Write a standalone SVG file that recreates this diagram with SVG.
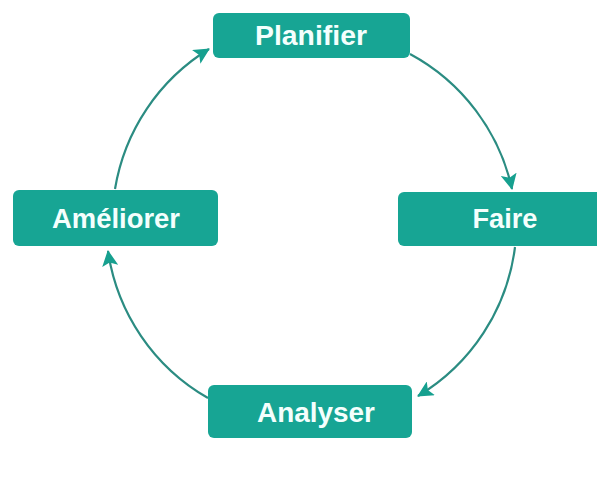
<svg xmlns="http://www.w3.org/2000/svg" width="597" height="477" viewBox="0 0 597 477">
<style>
.box{fill:#17a594;}
.lbl{fill:#f4fffd;font-family:"Liberation Sans",Arial,sans-serif;font-weight:bold;font-size:27px;text-anchor:middle;}
.arc{fill:none;stroke:#2b8c82;stroke-width:2.2;marker-end:url(#ah);}
</style>
<defs>
<marker id="ah" viewBox="0 0 16 16" refX="15" refY="8" markerWidth="16" markerHeight="16" markerUnits="userSpaceOnUse" orient="auto">
<path d="M0,0 L16,8 L0,16 L3.5,8 Z" fill="#16a08f"/>
</marker>
</defs>
<rect width="597" height="477" fill="#ffffff"/>
<g id="connectors">
<path class="arc" d="M 410 54 A 203 203 0 0 1 512 189"/>
<path class="arc" d="M 515 247 A 203 203 0 0 1 418 396"/>
<path class="arc" d="M 208 398 A 203 203 0 0 1 108 251"/>
<path class="arc" d="M 115 189 A 203 203 0 0 1 209 49"/>
</g>
<g id="planifier">
<rect class="box" x="213" y="13" width="197" height="45" rx="6"/>
<text class="lbl" x="311" y="45" textLength="112" lengthAdjust="spacingAndGlyphs">Planifier</text>
</g>
<g id="faire">
<rect class="box" x="398" y="192" width="205" height="54" rx="6"/>
<text class="lbl" x="505" y="228" textLength="65" lengthAdjust="spacingAndGlyphs">Faire</text>
</g>
<g id="analyser">
<rect class="box" x="208" y="385" width="204" height="53" rx="6"/>
<text class="lbl" x="316" y="422" textLength="118" lengthAdjust="spacingAndGlyphs">Analyser</text>
</g>
<g id="ameliorer">
<rect class="box" x="13" y="190" width="205" height="56" rx="6"/>
<text class="lbl" x="116" y="228" textLength="128" lengthAdjust="spacingAndGlyphs">Améliorer</text>
</g>
</svg>
